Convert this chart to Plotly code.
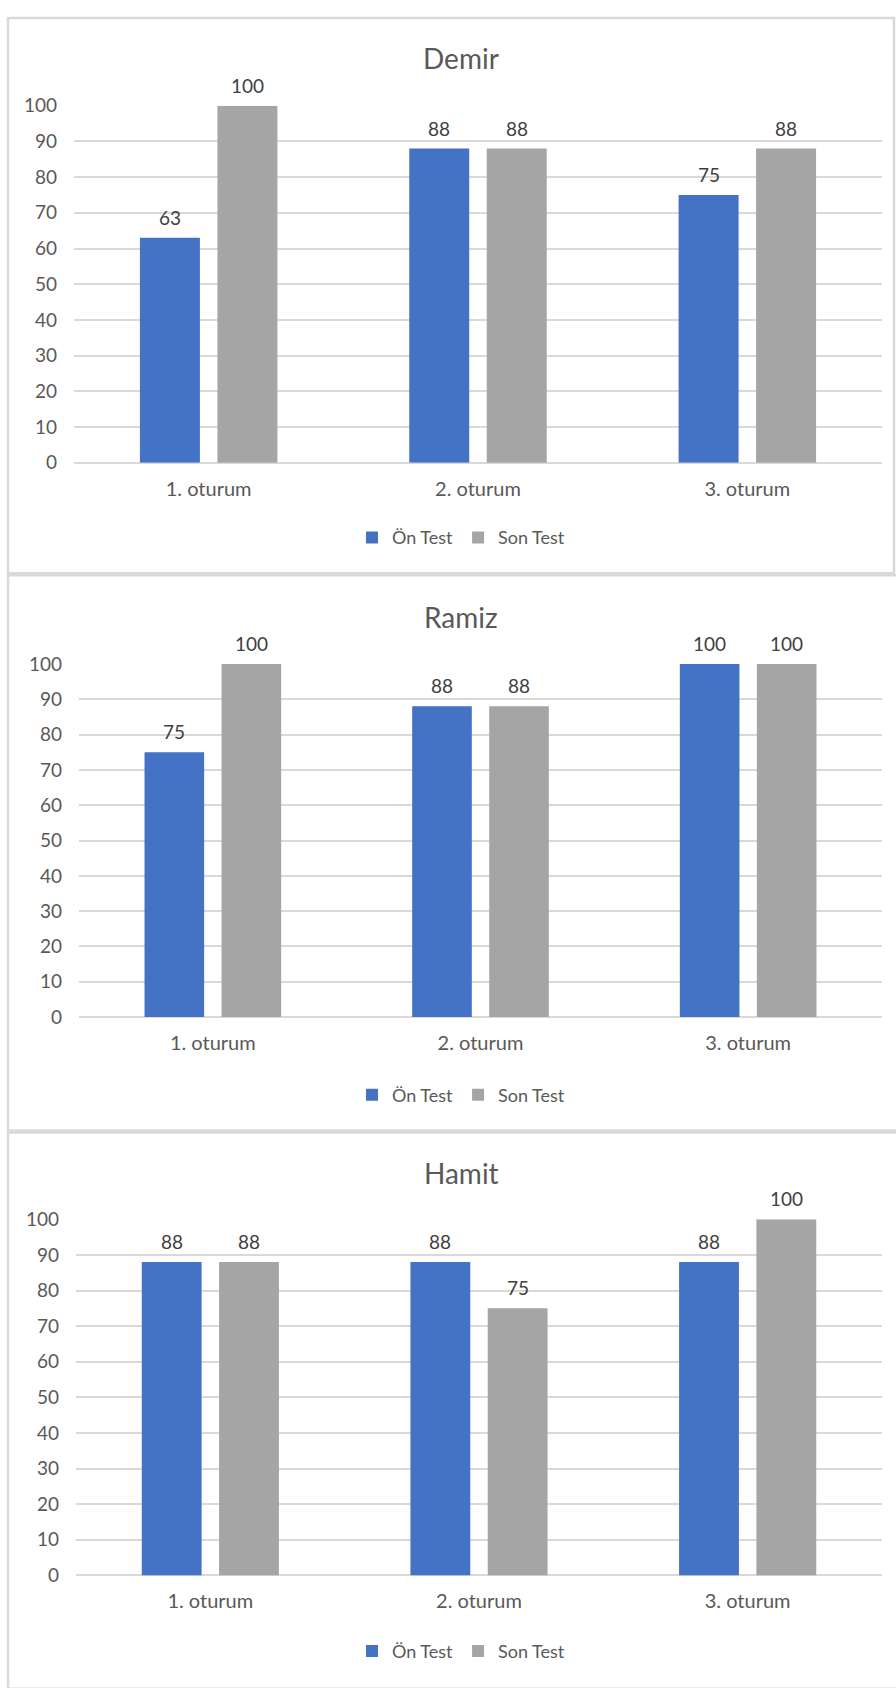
import plotly.graph_objects as go

# ---------------- data ----------------
categories = ["1. oturum", "2. oturum", "3. oturum"]
series_names = ["Ön Test", "Son Test"]
titles = ["Demir", "Ramiz", "Hamit"]

demir_on = [63, 88, 75]
demir_son = [100, 88, 88]
ramiz_on = [75, 88, 100]
ramiz_son = [100, 88, 100]
hamit_on = [88, 88, 88]
hamit_son = [88, 75, 100]

y_ticks = [0, 10, 20, 30, 40, 50, 60, 70, 80, 90, 100]

# ---------------- layout constants (pixels) ----------------
W, H = 896, 1688
FONT = "Lato"
TXT = "#595959"
LBL = "#404040"
GRID = "#d9d9d9"
BLUE = "#4472C4"
GRAY = "#A5A5A5"
BARGAP = 0.4245
GROUPGAP = 0.226


def px(x):
    return x / W


def py(y):
    return 1 - y / H


panels = [
    dict(on=demir_on, son=demir_son, x0=74, x1=882, y0=457, y100=95,
         title_y=47, legend_y=533, box=(8, 6, 894, 569)),
    dict(on=ramiz_on, son=ramiz_son, x0=79, x1=882, y0=1019, y100=661,
         title_y=613, legend_y=1098, box=(8, 571, 900, 1134)),
    dict(on=hamit_on, son=hamit_son, x0=76, x1=882, y0=1585, y100=1224,
         title_y=1177, legend_y=1662, box=(8, 1136, 900, 1700)),
]

fig = go.Figure()
annotations = []
shapes = []
layout_extra = {}
offset = (1 - BARGAP) / 4  # centre of each bar relative to category centre, in category units

for k, p in enumerate(panels):
    sfx = "" if k == 0 else str(k + 1)
    xa, ya = "x" + sfx, "y" + sfx
    lg = "legend" + sfx
    for name, vals, col in ((series_names[0], p["on"], BLUE), (series_names[1], p["son"], GRAY)):
        fig.add_trace(go.Bar(
            x=categories, y=vals, name=name, marker=dict(color=col, line=dict(width=0)),
            xaxis=xa, yaxis=ya, legend=lg, hoverinfo="x+y+name",
        ))
    for j, vals in enumerate((p["on"], p["son"])):
        for i, v in enumerate(vals):
            annotations.append(dict(
                x=i + (-offset if j == 0 else offset), y=v, xref=xa, yref=ya,
                text=str(v), showarrow=False, yanchor="bottom", yshift=7,
                font=dict(family=FONT, size=19, color=LBL),
            ))
    annotations.append(dict(
        x=px(461), y=py(p["title_y"]), xref="paper", yref="paper",
        text=titles[k], showarrow=False, xanchor="center", yanchor="middle",
        font=dict(family=FONT, size=28, color=TXT),
    ))
    bx0, by0, bx1, by1 = p["box"]
    shapes.append(dict(type="rect", xref="paper", yref="paper",
                       x0=px(bx0), x1=px(bx1), y0=py(by1), y1=py(by0),
                       line=dict(color=GRID, width=2.5), fillcolor="rgba(0,0,0,0)", layer="below"))
    layout_extra["xaxis" + sfx] = dict(
        domain=[px(p["x0"]), px(p["x1"])], anchor=ya, type="category",
        showgrid=False, zeroline=False, showline=False, ticks="",
        tickfont=dict(family=FONT, size=20, color=TXT), ticklabelstandoff=12,
        fixedrange=True,
    )
    layout_extra["yaxis" + sfx] = dict(
        domain=[py(p["y0"]), py(p["y100"])], anchor=xa, range=[0, 100],
        tickvals=y_ticks, showgrid=True, gridcolor=GRID, gridwidth=1.6,
        zeroline=True, zerolinecolor=GRID, zerolinewidth=1.6, showline=False, ticks="",
        tickfont=dict(family=FONT, size=19, color=TXT), ticklabelstandoff=16,
        fixedrange=True,
    )
    layout_extra[lg] = dict(
        orientation="h", x=px(461), y=py(p["legend_y"]), xanchor="center", yanchor="middle",
        font=dict(family=FONT, size=18, color=TXT), bgcolor="rgba(0,0,0,0)",
        itemwidth=30, traceorder="normal",
    )

fig.update_layout(
    width=W, height=H, margin=dict(l=0, r=0, t=0, b=0),
    paper_bgcolor="white", plot_bgcolor="rgba(0,0,0,0)",
    barmode="group", bargap=BARGAP, bargroupgap=GROUPGAP,
    showlegend=True, annotations=annotations, shapes=shapes,
    font=dict(family=FONT, color=TXT),
    **layout_extra,
)

fig.write_html(
    "out.html",
    config={"displayModeBar": False},
    post_script="document.body.style.margin='0';document.body.style.padding='0';",
)
